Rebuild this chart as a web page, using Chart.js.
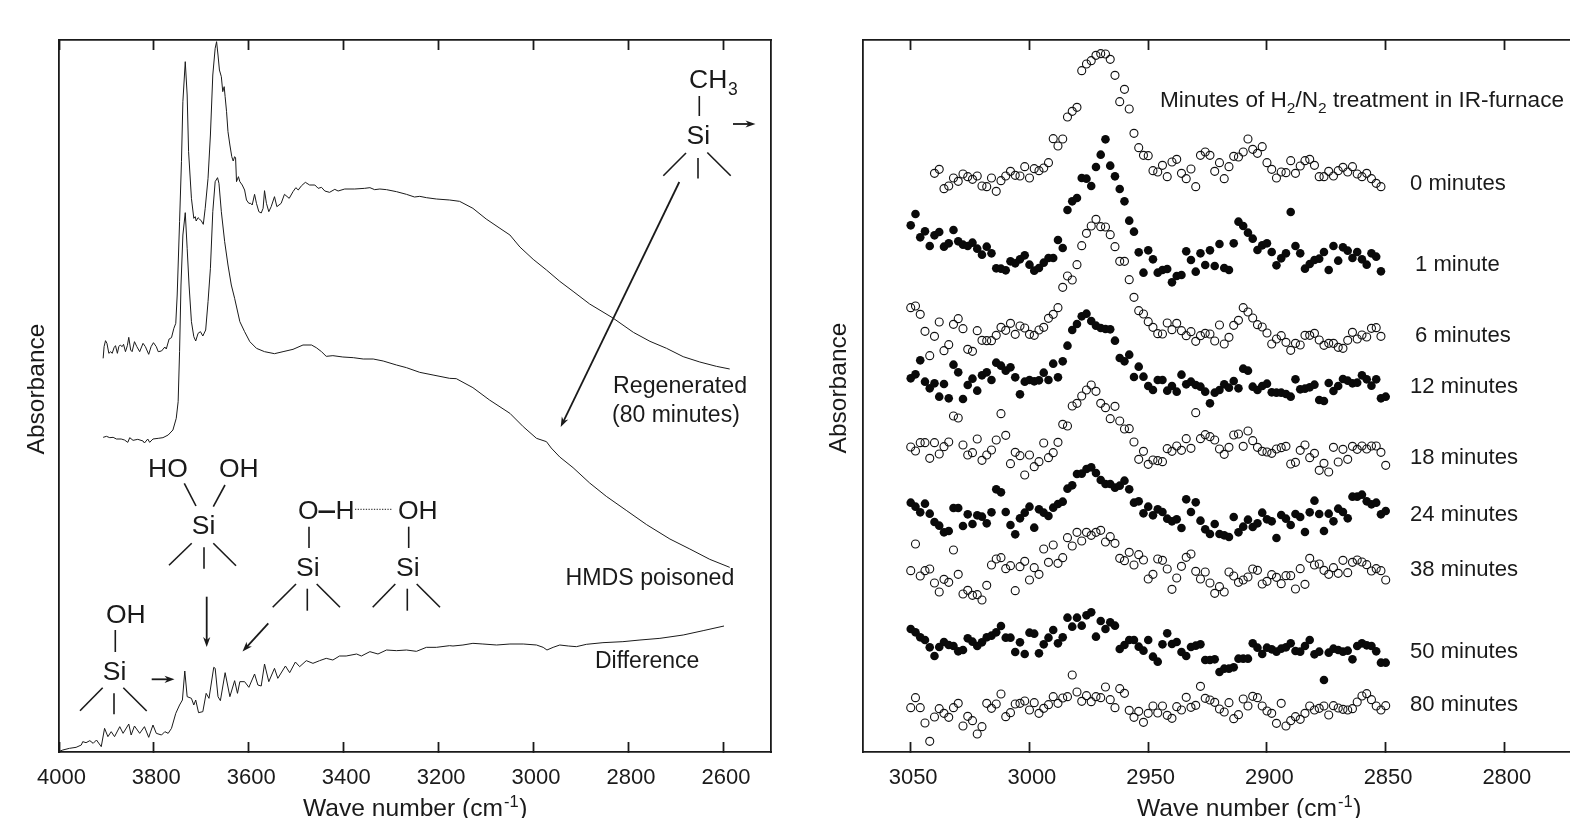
<!DOCTYPE html>
<html><head><meta charset="utf-8">
<script src="https://cdn.jsdelivr.net/npm/chart.js@4"></script>
<style>
html,body{margin:0;padding:0;background:#fff;width:1570px;height:818px;overflow:hidden}
canvas{position:absolute;top:0}
#c1{left:0}#c2{left:810px}
</style></head><body>
<canvas id="c1" width="810" height="818"></canvas>
<canvas id="c2" width="760" height="818"></canvas>
<script>
// ---------- left panel: full spectra ----------
const regenWave=[3907,3905,3902,3899,3895,3891,3888,3884,3881,3877,3874,3871,3867,3864,3860,3856,3853,3849,3846,3841,3836,3830,3823,3818,3811,3806,3801,3795,3791,3784,3777,3774,3768,3763,3758,3754,3751,3746,3742,3739,3734,3730,3727,3721,3716,3713,3711,3707,3704,3700,3696,3692,3686,3681,3676,3671,3668,3665,3662,3658,3655,3652,3650,3647,3644,3640,3636,3633,3630,3628,3626,3622,3619,3614,3609,3605,3600,3596,3593,3588,3584,3579,3574,3570,3567,3563,3558,3553,3546,3541,3532,3525,3515,3507,3501,3496,3489,3481,3472,3461,3454,3447,3440,3430,3419,3412,3398,3377,3356,3345,3335,3324,3310,3289,3268,3251,3240,3226,3205,3177,3156,3128,3100,3071,3050,3029,3001,2973,2945,2917,2882,2833,2790,2755,2720,2685,2650,2615,2587];
const regenAbs=[1178,1213,1231,1223,1193,1198,1193,1210,1216,1193,1213,1218,1213,1220,1198,1216,1241,1203,1198,1228,1213,1198,1223,1213,1190,1213,1225,1213,1198,1200,1212,1206,1236,1240,1268,1283,1368,1588,1768,1948,2068,1968,1798,1658,1598,1603,1590,1600,1596,1590,1580,1628,1718,1848,2028,2108,2128,2088,2043,2023,1978,1993,1963,1918,1858,1818,1783,1770,1783,1780,1708,1723,1708,1698,1683,1653,1643,1643,1638,1670,1643,1618,1614,1628,1681,1643,1618,1633,1663,1633,1643,1670,1658,1678,1690,1683,1696,1706,1698,1698,1688,1691,1680,1676,1685,1680,1686,1686,1688,1690,1684,1686,1684,1678,1670,1662,1664,1660,1656,1653,1649,1628,1596,1568,1548,1512,1475,1443,1409,1379,1341,1299,1256,1229,1208,1183,1167,1154,1146];
const poisonWave=[3907,3900,3893,3886,3879,3869,3862,3855,3851,3844,3834,3823,3820,3813,3809,3802,3791,3781,3770,3760,3753,3749,3746,3743,3739,3734,3730,3726,3721,3716,3712,3707,3702,3697,3691,3686,3681,3676,3671,3666,3663,3658,3651,3644,3637,3630,3619,3609,3598,3584,3567,3546,3528,3507,3486,3468,3458,3447,3437,3423,3402,3380,3359,3338,3317,3289,3268,3240,3212,3177,3163,3128,3093,3050,3022,2994,2973,2963,2945,2917,2882,2847,2805,2762,2713,2671,2629,2587];
const poisonAbs=[941,944,940,941,936,936,933,926,940,932,935,930,924,936,926,936,938,940,948,963,998,1048,1198,1398,1548,1615,1508,1398,1288,1243,1230,1253,1258,1245,1263,1348,1448,1618,1708,1720,1703,1618,1528,1458,1398,1358,1288,1258,1228,1208,1198,1192,1198,1205,1218,1218,1210,1198,1184,1186,1182,1180,1176,1176,1170,1158,1150,1136,1128,1118,1117,1090,1053,1013,973,938,928,909,882,850,804,764,722,679,636,606,575,551];
const diffWave=[4001,3992,3978,3964,3953,3950,3943,3935,3928,3921,3911,3904,3897,3890,3883,3872,3865,3853,3848,3841,3830,3820,3811,3802,3795,3784,3777,3770,3763,3754,3746,3740,3735,3730,3721,3716,3712,3706,3697,3690,3684,3674,3671,3665,3660,3650,3640,3630,3624,3619,3609,3600,3588,3581,3574,3567,3558,3546,3539,3523,3514,3502,3493,3479,3465,3451,3437,3423,3409,3395,3373,3363,3345,3328,3310,3289,3268,3247,3226,3205,3177,3170,3149,3128,3107,3078,3050,3022,2994,2980,2972,2959,2945,2927,2910,2889,2854,2812,2776,2734,2685,2643,2599];
const diffAbs=[-2,3,8,11,18,28,25,31,23,33,13,68,43,58,43,73,53,81,48,75,53,73,41,78,53,48,58,53,68,113,138,153,240,163,158,138,153,115,118,173,158,251,248,163,151,235,163,211,173,208,208,191,231,198,195,261,208,248,218,255,235,267,253,271,263,271,278,273,285,285,291,285,298,291,303,301,303,299,311,311,316,315,318,323,321,318,321,321,318,311,303,311,318,315,313,320,325,328,333,338,348,361,375];
const leftTicks=[4000,3800,3600,3400,3200,3000,2800,2600];

// ---------- right panel: C-H region ----------
const rightWave=[3050,3048,3046,3044,3042,3040,3038,3036,3034,3032,3030,3028,3026,3024,3022,3020,3018,3016,3014,3012,3010,3008,3006,3004,3002,3000,2998,2996,2994,2992,2990,2988,2986,2984,2982,2980,2978,2976,2974,2972,2970,2968,2966,2964,2962,2960,2958,2956,2954,2952,2950,2948,2946,2944,2942,2940,2938,2936,2934,2932,2930,2928,2926,2924,2922,2920,2918,2916,2914,2912,2910,2908,2906,2904,2902,2900,2898,2896,2894,2892,2890,2888,2886,2884,2882,2880,2878,2876,2874,2872,2870,2868,2866,2864,2862,2860,2858,2856,2854,2852,2850];
const min0=[null,null,null,null,null,1733,1745,1687,1695,1719,
1709,1731,1723,1715,1725,1695,1693,1719,1679,1711,
1725,1739,1727,1725,1753,1719,1747,1741,1749,1765,
1837,1815,1836,1902,1919,1931,2041,2061,2071,2087,
2092,2091,2075,2027,1948,1985,1926,1853,1810,1787,
1786,1741,1737,1757,1723,1767,1775,1733,1717,1746,
1693,1787,1797,1787,1739,1765,1717,1753,1784,1782,
1797,1836,1805,1793,1813,1765,1745,1719,1737,1735,
1771,1733,1755,1771,1775,1757,1723,1723,1739,1725,
1741,1751,1737,1753,1731,1723,1733,1717,1703,1693,null];
const min1=[1577,1611,1541,1559,1515,1547,1557,1513,1523,1563,
1529,1519,1515,1525,1507,1489,1513,1493,1448,1447,
1442,1469,1463,1475,1487,1459,1441,1449,1465,1479,
1479,1533,1509,1623,1649,1659,1719,1717,1695,1752,
1789,1835,1756,1724,1686,1649,1591,1558,1496,1435,
1502,1475,1435,1443,1446,1406,1425,1428,1499,1473,
1438,1493,1458,1502,1455,1521,1449,1443,1523,1588,
1575,1555,1537,1503,1517,1523,1497,1457,1478,1493,
1617,1515,1493,1447,1461,1473,1477,1497,1443,1515,
1471,1511,1501,1479,1497,1475,1459,1493,1483,1439,null];
const min6=[1330,1335,1310,1259,1186,1244,1287,1201,1219,1280,
1297,1267,1205,1199,1261,1232,1231,1231,1247,1271,
1262,1283,1250,1275,1269,1250,1247,1263,1271,1298,
1310,1330,1391,1425,1413,1459,1516,1553,1575,1595,
1573,1572,1549,1513,1469,1469,1414,1361,1321,1311,
1288,1271,1252,1251,1284,1264,1283,1261,1246,1258,
1229,1246,1253,1251,1230,1278,1221,1241,1277,1292,
1330,1317,1299,1279,1272,1254,1221,1236,1246,1226,
1202,1223,1218,1247,1247,1253,1233,1217,1223,1223,
1211,1208,1232,1256,1236,1248,1242,1268,1270,1244,null];
const min12=[1118,1130,1172,1108,1088,1103,1063,1101,1058,1159,
1136,1056,1098,1117,1081,1127,1136,1113,1165,1156,
1141,1151,1121,1070,1108,1113,1109,1112,1135,1113,
1162,1121,1169,1216,1263,1281,1304,1312,1290,1276,
1269,1266,1265,1231,1179,1169,1189,1122,1153,1123,
1095,1083,1113,1113,1081,1095,1078,1129,1100,1108,
1098,1093,1078,1043,1075,1083,1100,1090,1110,1088,
1147,1141,1093,1083,1095,1102,1076,1075,1075,1071,
1063,1115,1085,1087,1091,1099,1053,1050,1104,1080,
1095,1116,1111,1103,1105,1127,1115,1096,1115,1058,1063];
const min18=[912,900,925,925,878,925,891,913,927,1005,
999,918,888,895,936,872,888,903,933,1012,
947,862,896,886,828,888,853,868,924,880,
895,926,980,975,1035,1043,1065,1083,1098,1079,
1043,1030,997,1034,990,966,967,927,875,899,
860,873,871,868,907,899,915,902,937,908,
1015,937,949,943,933,906,890,911,948,951,
914,960,931,911,899,897,893,906,910,914,
861,866,902,918,880,893,842,863,837,911,
867,905,875,914,905,915,906,915,915,896,857];
const min24=[745,733,716,742,712,687,676,656,660,729,
729,675,710,681,707,703,683,716,785,776,
717,678,650,698,715,733,670,725,715,705,
730,741,748,787,797,831,832,846,851,834,
813,801,801,790,796,811,785,745,749,713,
733,707,725,717,697,689,695,669,755,717,
746,691,665,651,681,651,647,642,702,656,
673,694,672,683,715,695,689,639,708,697,
678,711,702,657,716,751,711,660,712,689,
727,717,698,763,763,769,749,740,745,710,720];
const min38=[541,621,525,541,546,504,477,515,506,603,
530,471,482,467,469,453,497,558,576,580,
547,556,481,553,569,513,550,530,606,566,
618,563,580,640,615,656,630,656,647,656,
662,627,643,623,578,571,596,558,589,573,
516,530,576,572,546,485,519,554,581,591,
539,516,537,504,473,493,477,537,525,506,
513,522,546,542,501,509,529,521,502,526,
526,486,547,500,578,558,561,542,530,550,
533,572,535,566,573,567,559,540,547,541,513];
const min50=[366,356,341,333,311,285,312,327,318,315,
299,303,338,328,315,326,341,346,356,375,
340,340,297,326,291,355,352,293,320,340,
363,323,341,400,373,400,376,407,416,343,
390,366,386,376,306,318,333,333,313,301,
333,283,268,320,353,321,327,297,285,312,
316,320,273,273,275,237,247,247,251,277,
277,277,323,310,291,310,305,298,307,311,
323,300,298,315,333,290,298,213,295,307,
303,298,301,275,315,323,317,315,299,265,265];
const min80=[130,160,130,84,29,102,127,113,101,130,
143,75,104,91,51,73,143,128,141,171,
103,115,141,143,150,123,145,113,128,139,
163,143,159,163,228,177,149,166,148,163,
160,192,154,130,187,173,122,101,119,86,
113,135,114,135,107,98,133,123,161,131,
137,194,158,153,146,126,117,145,97,109,
156,135,164,160,135,120,113,83,143,75,
91,103,95,113,135,123,128,135,108,136,
129,125,123,127,147,165,172,154,135,123,136];
const rightTicks=[3050,3000,2950,2900,2850,2800];
const seriesNames=['0 minutes','1 minute','6 minutes','12 minutes','18 minutes','24 minutes','38 minutes','50 minutes','80 minutes'];
const seriesData=[min0,min1,min6,min12,min18,min24,min38,min50,min80];

const INK='#1a1a1a', FONT='"Liberation Sans", Arial, sans-serif';
const zip=(xs,ys)=>xs.map((x,i)=>({x,y:ys[i]}));

function text(ctx,s,x,y,size){ctx.font=size+'px '+FONT;ctx.fillText(s,x,y);return ctx.measureText(s).width;}
function seg(ctx,x1,y1,x2,y2,w){ctx.lineWidth=w||1.6;ctx.beginPath();ctx.moveTo(x1,y1);ctx.lineTo(x2,y2);ctx.stroke();}
function arrow(ctx,x1,y1,x2,y2,w){
  const a=Math.atan2(y2-y1,x2-x1),L=10,H=3.6;
  seg(ctx,x1,y1,x2-Math.cos(a)*6,y2-Math.sin(a)*6,w||1.8);
  ctx.beginPath();ctx.moveTo(x2,y2);
  ctx.lineTo(x2-L*Math.cos(a)+H*Math.sin(a),y2-L*Math.sin(a)-H*Math.cos(a));
  ctx.lineTo(x2-L*Math.cos(a)*.7,y2-L*Math.sin(a)*.7);
  ctx.lineTo(x2-L*Math.cos(a)-H*Math.sin(a),y2-L*Math.sin(a)+H*Math.cos(a));
  ctx.closePath();ctx.fill();
}
function xTitle(ctx,x,y){
  let w=text(ctx,'Wave number (cm',x,y,24.6);
  w+=text(ctx,'-1',x+w+1,y-9,16.5)+1.5;
  text(ctx,')',x+w,y,24.6);
}
function yTitle(ctx,x,y){
  ctx.save();ctx.translate(x,y);ctx.rotate(-Math.PI/2);ctx.textAlign='center';
  text(ctx,'Absorbance',0,0,24.5);ctx.restore();
}
function setup(ctx){ctx.save();ctx.fillStyle=INK;ctx.strokeStyle=INK;ctx.textBaseline='alphabetic';ctx.textAlign='left';ctx.lineCap='butt';}

const leftNotes={id:'leftNotes',afterDraw(c){
  const x=c.ctx;setup(x);
  xTitle(x,303,816);yTitle(x,44,389);
  const S=26.5;
  // upper right molecule
  text(x,'CH',689,88,S);text(x,'3',728,95,17.5);seg(x,699.3,96,699.3,116);
  text(x,'Si',686.5,144,S);seg(x,686,153,663.3,175.7);seg(x,698,158,698,178.5);seg(x,707.3,152.5,730.7,175.7);
  arrow(x,733,124,755.5,124);arrow(x,679.3,182,560.7,427);
  // geminal
  text(x,'HO',148,477,S);text(x,'OH',219,477,S);
  seg(x,184.3,483.3,196,506);seg(x,225,485,213.3,506.7);
  text(x,'Si',191.7,534,S);seg(x,191.7,543.3,169,565.3);seg(x,204,547.3,204,568.7);seg(x,213.3,543.3,236,565.7);
  arrow(x,206.7,596.7,206.7,647);
  // isolated
  text(x,'OH',106,623,S);seg(x,115.3,630,115.3,652);
  text(x,'Si',102.7,680,S);seg(x,102.7,687.7,80,710.7);seg(x,114,693.3,114,714.3);seg(x,123.3,687.7,146.7,711);
  arrow(x,151.7,679.3,174.5,679.3);
  // H-bonded pair
  text(x,'O',298,519,S);seg(x,318.5,511.7,335,511.7,2.6);text(x,'H',335.5,519,S);
  x.save();x.setLineDash([1.3,1.4]);seg(x,355,509.3,392,509.3,1);x.restore();
  text(x,'OH',398,519,S);
  seg(x,309,526.7,309,548);text(x,'Si',296,576,S);
  seg(x,296,584,272.7,607.3);seg(x,307.3,588.7,307.3,610.7);seg(x,316.7,584,340,607.3);
  seg(x,408.7,526.7,408.7,548);text(x,'Si',396,576,S);
  seg(x,395.3,584,372.7,607.3);seg(x,407.3,588.7,407.3,610.7);seg(x,416.7,584,440,607.3);
  arrow(x,268.3,623.3,242.5,651.5);
  // curve labels
  text(x,'Regenerated',613,393,23.2);text(x,'(80 minutes)',612,422,23);
  text(x,'HMDS poisoned',565.5,585,23.2);text(x,'Difference',595,668,23);
  x.restore();
}};
const rightNotes={id:'rightNotes',afterDraw(c){
  const x=c.ctx;setup(x);x.translate(-810,0);
  xTitle(x,1137,816);yTitle(x,846,388);
  // heading with subscripts
  let px=1160;const Y=106.5,H=22.6;
  px+=text(x,'Minutes of H',px,Y,H);px+=text(x,'2',px,Y+6,15.5);
  px+=text(x,'/N',px,Y,H);px+=text(x,'2',px,Y+6,15.5);
  text(x,' treatment in IR-furnace',px,Y,H);
  const labelX=[1410,1415,1415,1410,1410,1410,1410,1410,1410];
  const labelY=[190,271,342,393,464,521,576,658,711];
  seriesNames.forEach((n,i)=>text(x,n,labelX[i],labelY[i],22.1));
  x.restore();
}};

function xScale(position,min,max,ticks,size,labels){
  return {type:'linear',position,reverse:true,min,max,
    grid:{drawOnChartArea:false,drawTicks:true,tickLength:-10,tickColor:INK,tickWidth:1.8},
    border:{display:true,color:INK,width:1.8},
    ticks:{display:labels,autoSkip:false,maxRotation:0,padding:23,labelOffset:2.4,color:INK,font:{family:FONT,size:22},callback:v=>String(v)},
    afterBuildTicks(s){s.ticks=ticks.map(value=>({value}));},
    afterFit(s){s.height=size;s.paddingLeft=0;s.paddingRight=0;}};
}
function yScale(position,size){
  return {type:'linear',position,min:-3,max:2133,
    grid:{display:false,drawTicks:false},border:{display:true,color:INK,width:1.8},
    ticks:{display:false},afterFit(s){s.width=size;s.paddingTop=0;s.paddingBottom=0;}};
}
const line=(label,xs,ys)=>({label,data:zip(xs,ys),showLine:true,borderColor:INK,borderWidth:1,pointRadius:0,tension:0,fill:false});
const base={responsive:false,animation:false,devicePixelRatio:1,layout:{padding:0,autoPadding:false},
  plugins:{legend:{display:false},tooltip:{enabled:false},title:{display:false}}};

new Chart(document.getElementById('c1'),{type:'scatter',
  data:{datasets:[line('Regenerated (80 minutes)',regenWave,regenAbs),line('HMDS poisoned',poisonWave,poisonAbs),line('Difference',diffWave,diffAbs)]},
  plugins:[leftNotes],
  options:{...base,scales:{
    x:xScale('bottom',2500,4000,leftTicks,66,true),
    xTop:xScale('top',2500,4000,leftTicks,40,false),
    y:yScale('left',59),yRight:yScale('right',39)}}});

new Chart(document.getElementById('c2'),{type:'scatter',
  data:{datasets:seriesData.map((d,i)=>{
    const filled=i%2===1;
    return {label:seriesNames[i],data:zip(rightWave,d),showLine:false,pointStyle:'circle',
      pointRadius:filled?4.3:4,pointBorderWidth:filled?0:1.1,
      pointBackgroundColor:filled?'#0a0a0a':'transparent',pointBorderColor:'#111'};
  })},
  plugins:[rightNotes],
  options:{...base,scales:{
    x:xScale('bottom',2772.4,3070.1,rightTicks,66,true),
    xTop:xScale('top',2772.4,3070.1,rightTicks,40,false),
    y:yScale('left',53)}}});
</script>
</body></html>
